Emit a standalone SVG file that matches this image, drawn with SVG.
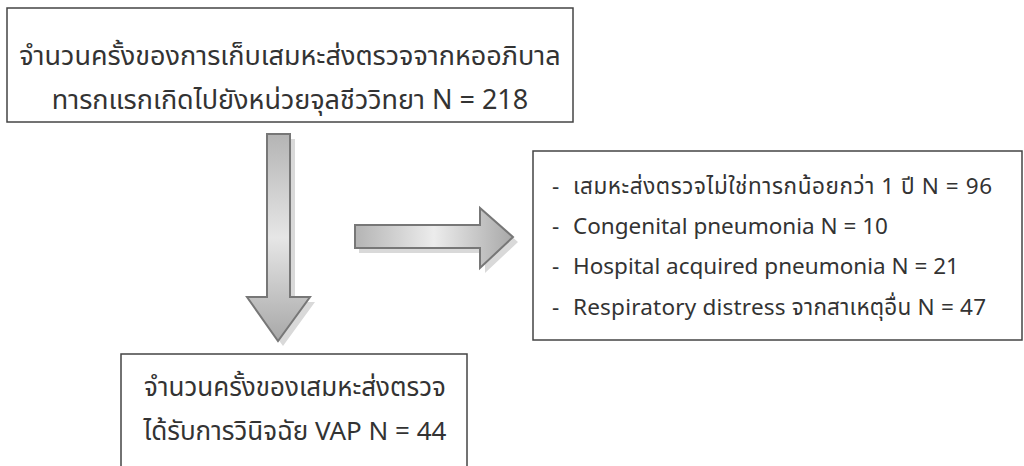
<svg xmlns="http://www.w3.org/2000/svg" width="1024" height="466" viewBox="0 0 1024 466">
<style>
.box{fill:#fff;stroke:#444;stroke-width:1.5}
.t{font-family:"Noto Sans Thai","Noto Sans","DejaVu Sans",sans-serif;fill:#333}
.big{font-size:27px}
.mid{font-size:26px}
.sm{font-size:22.5px}
.arr{stroke:#777;stroke-width:2;stroke-linejoin:miter}
.shadow{fill:#d9d9d9}
</style>
<defs>
<linearGradient id="gv" x1="0" y1="0" x2="0" y2="1">
<stop offset="0" stop-color="#b4b4b4"/>
<stop offset="0.5" stop-color="#e6e6e6"/>
<stop offset="1" stop-color="#a8a8a8"/>
</linearGradient>
<linearGradient id="gh" x1="0" y1="0" x2="1" y2="0">
<stop offset="0" stop-color="#b4b4b4"/>
<stop offset="0.5" stop-color="#ececec"/>
<stop offset="1" stop-color="#a8a8a8"/>
</linearGradient>
</defs>
<rect width="1024" height="466" fill="#fff"/>
<g id="connectors">
<g id="arrow-down">
<path class="shadow" d="M271,139 H295 V302 H315 L283,346 L251,302 H271 Z"/>
<path class="arr" fill="url(#gv)" d="M267,134 H290 V297 H310 L278,341 L247,297 H267 Z"/>
</g>
<g id="arrow-right">
<path class="shadow" d="M359,230 H485 V213 L518,242 L485,273 V253 H359 Z"/>
<path class="arr" fill="url(#gh)" d="M355,225 H480 V208 L513,237 L480,268 V248 H355 Z"/>
</g>
</g>
<g id="node-total">
<rect class="box" x="7" y="8" width="566" height="114"/>
<text class="t big" x="290" y="65" text-anchor="middle">จำนวนครั้งของการเก็บเสมหะส่งตรวจจากหออภิบาล</text>
<text class="t big" x="290" y="109" text-anchor="middle">ทารกแรกเกิดไปยังหน่วยจุลชีววิทยา N = 218</text>
</g>
<g id="node-excluded">
<rect class="box" x="533" y="151" width="489" height="189"/>
<text class="t sm" x="552" y="194">-</text>
<text class="t sm" x="573" y="194" textLength="419" lengthAdjust="spacing">เสมหะส่งตรวจไม่ใช่ทารกน้อยกว่า 1 ปี N = 96</text>
<text class="t sm" x="552" y="234">-</text>
<text class="t sm" x="573" y="234">Congenital pneumonia N = 10</text>
<text class="t sm" x="552" y="274">-</text>
<text class="t sm" x="573" y="274">Hospital acquired pneumonia N = 21</text>
<text class="t sm" x="552" y="315">-</text>
<text class="t sm" x="573" y="315" textLength="413" lengthAdjust="spacing">Respiratory distress จากสาเหตุอื่น N = 47</text>
</g>
<g id="node-vap">
<rect class="box" x="121" y="354" width="346" height="130"/>
<text class="t mid" x="295" y="396" text-anchor="middle">จำนวนครั้งของเสมหะส่งตรวจ</text>
<text class="t mid" x="295" y="440" text-anchor="middle">ได้รับการวินิจฉัย VAP N = 44</text>
</g>
</svg>
